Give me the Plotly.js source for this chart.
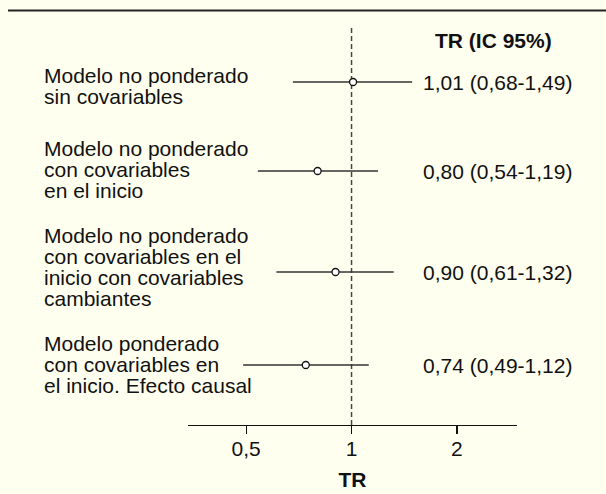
<!DOCTYPE html>
<html>
<head>
<meta charset="utf-8">
<script src="https://cdn.plot.ly/plotly-3.0.1.min.js"></script>
<style>html,body{margin:0;padding:0;background:#fffff0;}#chart{width:606px;height:494px;}</style>
</head>
<body>
<div id="chart"></div>
<script>
// ---- data ----
const models = [
  "Modelo no ponderado<br>sin covariables",
  "Modelo no ponderado<br>con covariables<br>en el inicio",
  "Modelo no ponderado<br>con covariables en el<br>inicio con covariables<br>cambiantes",
  "Modelo ponderado<br>con covariables en<br>el inicio. Efecto causal"
];
const estimate = [1.01, 0.80, 0.90, 0.74];
const lower = [0.68, 0.54, 0.61, 0.49];
const upper = [1.49, 1.19, 1.32, 1.12];
const tickValues = [0.5, 1, 2];
const tickLabels = ["0,5", "1", "2"];
const headerText = "TR (IC 95%)";
const axisTitle = "TR";

// ---- layout helpers (pixel offsets from top of plot area) ----
const rowPos = [55, 144, 245, 338];
const labelCenter = [58.5, 142, 240, 337];
const lineGap = 21;
const FONT = "Liberation Sans, Arial, Helvetica, sans-serif";
const FS = 21;
const fmt = v => v.toFixed(2).replace('.', ',');

const traces = [];
for (let i = 0; i < estimate.length; i++) {
  traces.push({
    type: 'scatter', mode: 'lines',
    x: [lower[i], upper[i]], y: [rowPos[i], rowPos[i]],
    line: {color: '#333333', width: 1.3},
    hoverinfo: 'skip', showlegend: false
  });
}
traces.push({
  type: 'scatter', mode: 'markers',
  x: estimate, y: rowPos,
  marker: {symbol: 'circle', size: 7, color: 'white', line: {color: '#111111', width: 1.3}},
  showlegend: false, hoverinfo: 'x'
});

const plotL = 188, plotR = 517, plotT = 27, plotB = 425;
const W = 606, H = 494;
const px2paperX = px => (px - plotL) / (plotR - plotL);
const px2paperY = py => (plotB - py) / (plotB - plotT);

const annotations = [];
models.forEach((m, i) => {
  const lines = m.split('<br>');
  lines.forEach((ln, j) => {
    annotations.push({
      xref: 'paper', yref: 'y', x: px2paperX(42), y: labelCenter[i] + (j - (lines.length - 1) / 2) * lineGap,
      xanchor: 'left', yanchor: 'middle', text: ln, showarrow: false,
      font: {family: FONT, size: FS, color: '#111111'}
    });
  });
  annotations.push({
    xref: 'paper', yref: 'y', x: px2paperX(497), y: rowPos[i],
    xanchor: 'center', yanchor: 'middle',
    text: fmt(estimate[i]) + ' (' + fmt(lower[i]) + '-' + fmt(upper[i]) + ')',
    showarrow: false, font: {family: FONT, size: FS, color: '#111111'}
  });
});
annotations.push({
  xref: 'paper', yref: 'y', x: px2paperX(493), y: 13,
  xanchor: 'center', yanchor: 'middle', text: '<b>' + headerText + '</b>',
  showarrow: false, font: {family: FONT, size: FS, color: '#111111'}
});

const layout = {
  width: W, height: H,
  paper_bgcolor: '#fffff0', plot_bgcolor: '#fffff0',
  margin: {l: plotL, r: W - plotR, t: plotT, b: H - plotB},
  showlegend: false,
  font: {family: FONT, color: '#111111'},
  xaxis: {
    type: 'log', range: [Math.log10(0.341), Math.log10(2.97)],
    tickvals: tickValues, ticktext: tickLabels,
    showline: true, linecolor: '#111111', linewidth: 1.3,
    ticks: 'outside', ticklen: 8, tickwidth: 1.3, tickcolor: '#111111',
    ticklabelstandoff: -4,
    showgrid: false, zeroline: false,
    tickfont: {family: FONT, size: FS, color: '#111111'},
    title: {text: '<b>' + axisTitle + '</b>', font: {family: FONT, size: FS, color: '#111111'}, standoff: 13},
    fixedrange: true
  },
  yaxis: {visible: false, range: [plotB - plotT, 0], fixedrange: true},
  shapes: [
    {type: 'line', xref: 'x', yref: 'paper', x0: 1, x1: 1, y0: 0, y1: 1,
     line: {color: '#444444', width: 1.5, dash: '5px,3px'}, layer: 'below'},
    {type: 'line', xref: 'paper', yref: 'paper', x0: px2paperX(8), x1: px2paperX(606), y0: px2paperY(10.5), y1: px2paperY(10.5),
     line: {color: '#222222', width: 2}}
  ],
  annotations: annotations
};

Plotly.newPlot('chart', traces, layout, {displayModeBar: false, staticPlot: true});
</script>
</body>
</html>
